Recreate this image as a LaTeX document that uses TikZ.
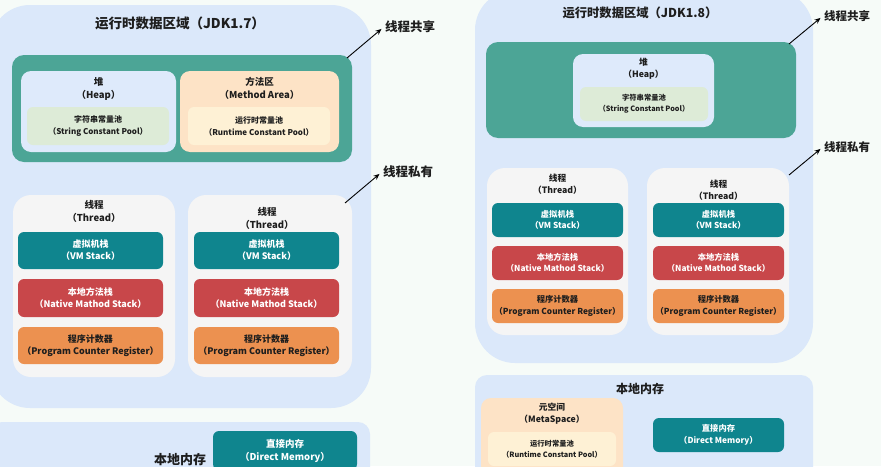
\documentclass[tikz,border=0pt]{standalone}
\usepackage{fontspec}
\setmainfont{Noto Sans CJK SC}
\usetikzlibrary{arrows.meta}
\definecolor{bgc}{HTML}{F6FBF8}
\definecolor{outerc}{HTML}{DBE8FA}
\definecolor{sharedc}{HTML}{4CA596}
\definecolor{heapc}{HTML}{DEEAFB}
\definecolor{spoolc}{HTML}{DDEBD7}
\definecolor{methodc}{HTML}{FDE3C6}
\definecolor{rpoolc}{HTML}{FEF1D5}
\definecolor{threadc}{HTML}{F5F5F5}
\definecolor{vmc}{HTML}{0F858E}
\definecolor{redc}{HTML}{C8474A}
\definecolor{orangec}{HTML}{EC9150}
\definecolor{txtc}{HTML}{1E1E1E}
\newcommand\fz[2]{\bfseries\fontsize{#1}{#2}\selectfont}
\tikzset{
  rbox/.style={rounded corners=#1, inner sep=0pt, outer sep=0pt, draw=none, align=center},
  lbl/.style={align=center, inner sep=1pt, text=txtc},
  arr/.style={-{Stealth[length=6pt,width=5pt]}, line width=0.9pt, black, shorten >=3pt},
  % left sizes
  ttlL/.style={lbl, font=\fz{13.5}{16}},
  hdrL/.style={lbl, font=\fz{9.5}{13}},
  subL/.style={font=\fz{8}{12}, text=txtc},
  stkL/.style={font=\fz{9}{12}, text=white},
  sideL/.style={lbl, font=\fz{12.5}{15}},
  % right sizes
  ttlR/.style={lbl, font=\fz{12.3}{15}},
  hdrR/.style={lbl, font=\fz{8.7}{12}},
  subR/.style={font=\fz{7.3}{11}, text=txtc},
  stkR/.style={font=\fz{8.3}{11.5}, text=white},
  sideR/.style={lbl, font=\fz{11.5}{14}},
}
\begin{document}
\begin{tikzpicture}[x=1pt,y=-1pt]
\useasboundingbox (0,0) rectangle (881,466);
\fill[bgc] (0,0) rectangle (881,466);
\clip (0,0) rectangle (881,466);

% ================= LEFT (JDK1.7) =================
\node[rbox=40pt, fill=outerc, minimum width=381pt, minimum height=403pt] (outerL) at (180.5,206.5) {};
\node[ttlL] (titleL) at (180,23) {运行时数据区域（JDK1.7）};
\node[rbox=12pt, fill=sharedc, minimum width=340pt, minimum height=107pt] (sharedL) at (182,108.5) {};
\node[rbox=10pt, fill=heapc, minimum width=155pt, minimum height=81pt] (heapL) at (98.5,111.5) {};
\node[hdrL] (heapLt) at (98.5,88.5) {堆\\（Heap）};
\node[rbox=6pt, fill=spoolc, minimum width=142pt, minimum height=38pt, subL] (spoolL) at (98,126) {字符串常量池\\（String Constant Pool）};
\node[rbox=10pt, fill=methodc, minimum width=159pt, minimum height=81pt] (methodL) at (259.5,111.5) {};
\node[hdrL] (methodLt) at (259.5,88.5) {方法区\\（Method Area）};
\node[rbox=6pt, fill=rpoolc, minimum width=142pt, minimum height=38pt, subL] (rpoolL) at (259,126) {运行时常量池\\（Runtime Constant Pool）};

\node[rbox=18pt, fill=threadc, minimum width=162pt, minimum height=182pt] (thrL1) at (94,286) {};
\node[hdrL] (thrL1t) at (94,211.5) {线程\\（Thread）};
\node[rbox=6pt, fill=vmc, minimum width=145pt, minimum height=37pt, stkL] (vmL1) at (90.5,250.5) {虚拟机栈\\（VM Stack）};
\node[rbox=6pt, fill=redc, minimum width=145pt, minimum height=38pt, stkL] (nsL1) at (90.5,298) {本地方法栈\\（Native Mathod Stack）};
\node[rbox=6pt, fill=orangec, minimum width=145pt, minimum height=37pt, stkL, text=txtc] (pcL1) at (90.5,345.5) {程序计数器\\（Program Counter Register）};

\node[rbox=18pt, fill=threadc, minimum width=164pt, minimum height=182pt] (thrL2) at (270,286) {};
\node[hdrL] (thrL2t) at (267,218) {线程\\（Thread）};
\node[rbox=6pt, fill=vmc, minimum width=145pt, minimum height=37pt, stkL] (vmL2) at (266.5,250.5) {虚拟机栈\\（VM Stack）};
\node[rbox=6pt, fill=redc, minimum width=145pt, minimum height=38pt, stkL] (nsL2) at (266.5,298) {本地方法栈\\（Native Mathod Stack）};
\node[rbox=6pt, fill=orangec, minimum width=145pt, minimum height=37pt, stkL, text=txtc] (pcL2) at (266.5,345.5) {程序计数器\\（Program Counter Register）};

\node[rbox=12pt, fill=outerc, minimum width=380pt, minimum height=90pt] (nativeL) at (180,467) {};
\node[lbl, font=\fz{13}{16}] (nativeLt) at (180,460) {本地内存};
\node[rbox=6pt, fill=vmc, minimum width=144pt, minimum height=39pt, font=\fz{9.5}{13}, text=white] (directL) at (285,450.5) {直接内存\\（Direct Memory）};

\node[sideL] (shareL) at (410,27) {线程共享};
\node[sideL] (privL) at (408,172) {线程私有};
\coordinate (a1) at (347,58);
\coordinate (a2) at (345,203);
\draw[arr] (a1) -- (shareL.west);
\draw[arr] (a2) -- (privL.west);

% ================= RIGHT (JDK1.8) =================
\node[rbox=40pt, fill=outerc, minimum width=338pt, minimum height=373pt] (outerR) at (644,176.5) {};
\node[ttlR] (titleR) at (640,13) {运行时数据区域（JDK1.8）};
\node[rbox=12pt, fill=sharedc, minimum width=310pt, minimum height=96pt] (sharedR) at (641,90) {};
\node[rbox=10pt, fill=heapc, minimum width=141pt, minimum height=73pt] (heapR) at (643.5,90.5) {};
\node[hdrR] (heapRt) at (643.5,68.5) {堆\\（Heap）};
\node[rbox=6pt, fill=spoolc, minimum width=128pt, minimum height=34pt, subR] (spoolR) at (644,104) {字符串常量池\\（String Constant Pool）};

\node[rbox=18pt, fill=threadc, minimum width=141pt, minimum height=167pt] (thrR1) at (557.5,251.5) {};
\node[hdrR] (thrR1t) at (557.5,184.5) {线程\\（Thread）};
\node[rbox=6pt, fill=vmc, minimum width=131pt, minimum height=34pt, stkR] (vmR1) at (557.5,220) {虚拟机栈\\（VM Stack）};
\node[rbox=6pt, fill=redc, minimum width=131pt, minimum height=34pt, stkR] (nsR1) at (557.5,263) {本地方法栈\\（Native Mathod Stack）};
\node[rbox=6pt, fill=orangec, minimum width=131pt, minimum height=34pt, stkR, text=txtc] (pcR1) at (557.5,306) {程序计数器\\（Program Counter Register）};

\node[rbox=18pt, fill=threadc, minimum width=142pt, minimum height=167pt] (thrR2) at (718,251.5) {};
\node[hdrR] (thrR2t) at (718.5,190.5) {线程\\（Thread）};
\node[rbox=6pt, fill=vmc, minimum width=131pt, minimum height=34pt, stkR] (vmR2) at (718.5,220) {虚拟机栈\\（VM Stack）};
\node[rbox=6pt, fill=redc, minimum width=131pt, minimum height=34pt, stkR] (nsR2) at (718.5,263) {本地方法栈\\（Native Mathod Stack）};
\node[rbox=6pt, fill=orangec, minimum width=131pt, minimum height=34pt, stkR, text=txtc] (pcR2) at (718.5,306) {程序计数器\\（Program Counter Register）};

\node[rbox=12pt, fill=outerc, minimum width=338pt, minimum height=125pt] (nativeR) at (644,437.5) {};
\node[lbl, font=\fz{12}{15}] (nativeRt) at (640,389) {本地内存};
\node[rbox=10pt, fill=methodc, minimum width=142pt, minimum height=102pt] (metaR) at (552,449) {};
\node[hdrR] (metaRt) at (552,413.5) {元空间\\（MetaSpace）};
\node[rbox=6pt, fill=rpoolc, minimum width=128pt, minimum height=34pt, subR] (rpoolR) at (552,449) {运行时常量池\\（Runtime Constant Pool）};
\node[rbox=6pt, fill=vmc, minimum width=131pt, minimum height=34pt, stkR] (directR) at (718.5,435) {直接内存\\（Direct Memory）};

\node[sideR] (shareR) at (847,16) {线程共享};
\node[sideR] (privR) at (847,147) {线程私有};
\coordinate (b1) at (789,44);
\coordinate (b2) at (789,175);
\draw[arr] (b1) -- (shareR.west);
\draw[arr] (b2) -- (privR.west);
\end{tikzpicture}
\end{document}
